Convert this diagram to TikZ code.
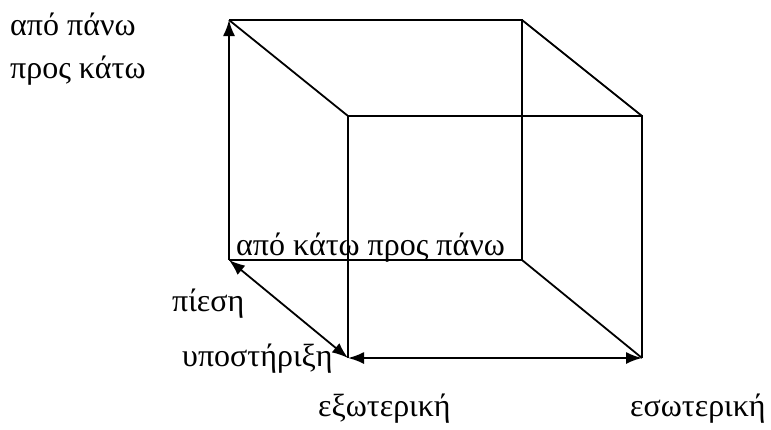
\documentclass[tikz,border=0pt]{standalone}
\usepackage{fontspec}
\setmainfont{Liberation Serif}
\usetikzlibrary{arrows.meta}

\begin{document}
\begin{tikzpicture}[
  x=1pt, y=-1pt,
  edge/.style={line width=1.8pt},
  arrow/.style={-{Latex[length=16pt, width=12pt]}, line width=1.8pt},
  twoway/.style={{Latex[length=16pt, width=12pt]}-{Latex[length=16pt, width=12pt]}, line width=1.8pt},
  label/.style={font=\fontsize{32}{36}\selectfont, inner sep=0pt, anchor=base west},
]
\useasboundingbox (0,0) rectangle (771,429);

% === Back face ===
\coordinate (btl) at (229,20);
\coordinate (btr) at (522,20);
\coordinate (bbr) at (522,260);
\coordinate (bbl) at (229,260);

% === Front face ===
\coordinate (ftl) at (348,116);
\coordinate (ftr) at (642,116);
\coordinate (fbr) at (642,358);
\coordinate (fbl) at (348,358);

\draw[edge] (btl) -- (btr) -- (bbr) -- (bbl);
\draw[arrow] (bbl) -- (btl);
\draw[edge] (fbl) -- (ftl) -- (ftr) -- (fbr);
\draw[twoway] (fbl) -- (fbr);

% === Depth edges ===
\draw[edge] (btl) -- (ftl);
\draw[edge] (btr) -- (ftr);
\draw[twoway] (bbl) -- (fbl);
\draw[edge] (bbr) -- (fbr);

% === Labels ===
\node[label] (top1) at (10,35) {από πάνω};
\node[label] (top2) at (10,78) {προς κάτω};
\node[label] (up) at (236,255) {από κάτω προς πάνω};
\node[label] (press) at (172,311) {πίεση};
\node[label] (supp) at (182,366) {υποστήριξη};
\node[label] (outer) at (318,416) {εξωτερική};
\node[label] (inner) at (630,416) {εσωτερική};

\end{tikzpicture}
\end{document}
